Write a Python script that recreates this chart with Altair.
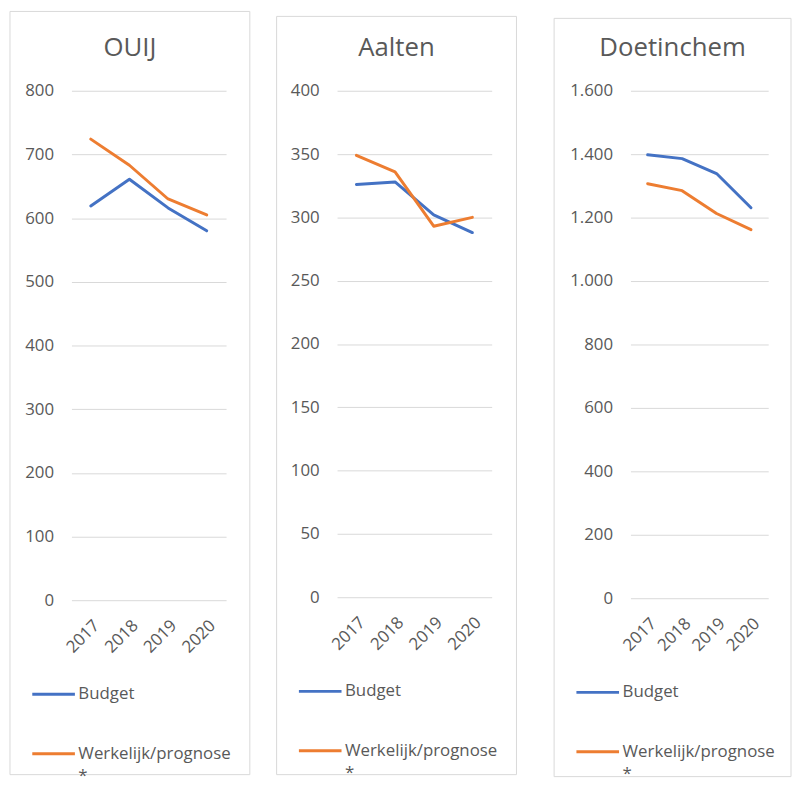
import altair as alt
import pandas as pd

years = ["2017", "2018", "2019", "2020"]
series = ["Budget", "Werkelijk/prognose *"]
panel_names = ["OUIJ", "Aalten", "Doetinchem"]

ouij_budget = [619, 661, 616, 580]
ouij_werkelijk = [724, 683, 630, 605]
aalten_budget = [326, 328, 302, 288]
aalten_werkelijk = [349, 336, 293, 300]
doetinchem_budget = [1398, 1386, 1339, 1231]
doetinchem_werkelijk = [1307, 1285, 1213, 1162]

y_max = [800, 400, 1600]
y_step = [100, 50, 200]

FONT = "Open Sans"
TXT = "#595959"
GRID = "#d9d9d9"
COLORS = ["#4472C4", "#ED7D31"]


def panel(name, budget, werk, ymax, ystep, W, H, left, right, top, bottom):
    df = pd.DataFrame({
        "jaar": years * 2,
        "serie": [series[0]] * 4 + [series[1]] * 4,
        "waarde": budget + werk,
    })
    one = pd.DataFrame({"t": [name]})
    frame = alt.Chart(one).mark_rect(fillOpacity=0, stroke=GRID, strokeWidth=1).encode(
        x=alt.value(-left), x2=alt.value(W + right),
        y=alt.value(-top), y2=alt.value(H + bottom),
    )
    title = alt.Chart(one).mark_text(fontSize=26, color=TXT, font=FONT, baseline="middle").encode(
        x=alt.value((W + right - left) / 2), y=alt.value(-43), text="t:N"
    )
    lines = alt.Chart(df).mark_line(strokeWidth=3, strokeJoin="round", strokeCap="round").encode(
        x=alt.X("jaar:O", scale=alt.Scale(type="point", padding=0.5),
                axis=alt.Axis(title=None, labelAngle=-45, domain=False, ticks=False, grid=False,
                              labelFontSize=17, labelFont=FONT, labelColor=TXT, labelPadding=17)),
        y=alt.Y("waarde:Q", scale=alt.Scale(domain=[0, ymax], nice=False),
                axis=alt.Axis(title=None, values=list(range(0, ymax + 1, ystep)), domain=False,
                              ticks=False, gridColor=GRID, gridWidth=1, labelFontSize=17,
                              labelFont=FONT, labelColor=TXT, labelPadding=18,
                              labelExpr="replace(format(datum.value, ','), ',', '.')")),
        color=alt.Color("serie:N", scale=alt.Scale(domain=series, range=COLORS),
                        legend=alt.Legend(title=None, orient="none", legendX=-left + 21,
                                          legendY=H + 72, symbolType="stroke", symbolSize=1849,
                                          symbolStrokeWidth=3, labelFontSize=17, labelFont=FONT,
                                          labelColor=TXT, labelOffset=2, rowPadding=29, padding=0,
                                          labelExpr="split(datum.label, ' ')")),
    )
    return alt.layer(frame, title, lines).properties(
        width=W, height=H, view=alt.ViewBackground(stroke="transparent", strokeWidth=0)
    )


p1 = panel(panel_names[0], ouij_budget, ouij_werkelijk, y_max[0], y_step[0], 156, 514, 62, 24, 80, 176)
p2 = panel(panel_names[1], aalten_budget, aalten_werkelijk, y_max[1], y_step[1], 156, 511, 61, 25, 75, 179)
p3 = panel(panel_names[2], doetinchem_budget, doetinchem_werkelijk, y_max[2], y_step[2], 139, 512, 77, 23, 73, 180)

chart = alt.hconcat(
    alt.hconcat(p1, p2, spacing=25).resolve_scale(y="independent", color="independent").resolve_legend(color="independent"),
    p3, spacing=36,
).resolve_scale(y="independent", color="independent").resolve_legend(color="independent").properties(
    padding={"left": 1, "top": -1, "right": 0, "bottom": 0}
).configure_view(stroke="transparent", strokeWidth=0).configure(
    background="white", style={"guide-label": {"lineHeight": 22}}
)

chart.save("out.html", embed_options={"renderer": "svg", "actions": False})
